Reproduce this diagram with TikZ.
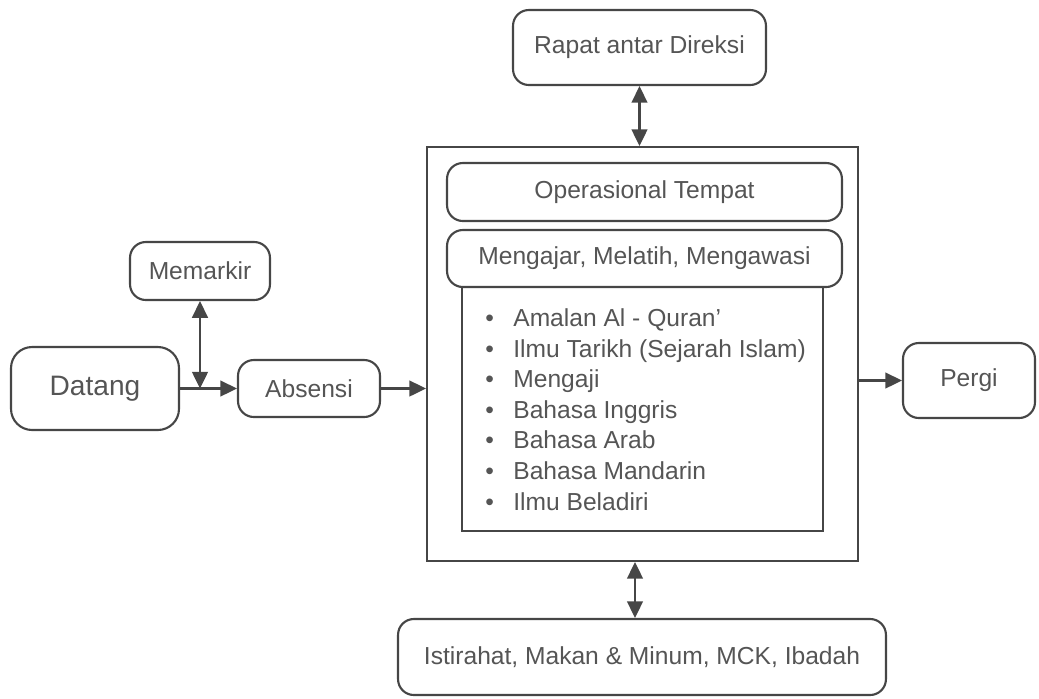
\documentclass[tikz,border=0pt]{standalone}
\usepackage{fontspec}
\setmainfont{Liberation Sans}
\usetikzlibrary{arrows.meta, positioning, calc}
\definecolor{linegray}{RGB}{70,70,70}
\definecolor{textgray}{RGB}{85,85,85}
\tikzset{
  roundbox/.style={
    rectangle, rounded corners=9pt,
    draw=linegray, line width=1.2pt, fill=white,
    text=textgray, align=center,
    font=\fontsize{14}{17}\selectfont
  },
  plainbox/.style={
    rectangle, draw=linegray, line width=1.2pt
  },
  arrow/.style={-{Triangle[length=9.5pt,width=9pt]}, line width=1.2pt, color=linegray},
  dblarrow/.style={{Triangle[length=9.5pt,width=9pt]}-{Triangle[length=9.5pt,width=9pt]},
    line width=1.2pt, color=linegray},
}

\begin{document}
\begin{tikzpicture}[x=0.02cm, y=-0.02cm]
  \useasboundingbox (0,0) rectangle (1039,698);

  % Centre block
  \node[plainbox, minimum width=8.62cm, minimum height=8.28cm] (outer) at (642.5,354) {};
  \node[plainbox, minimum width=7.22cm, minimum height=4.88cm] (materi) at (642.5,409) {};
  \node[roundbox, minimum width=7.9cm, minimum height=1.16cm] (ops) at (644.5,192)
        {Operasional Tempat};
  \node[roundbox, minimum width=7.9cm, minimum height=1.14cm] (ajar) at (644.5,258.5)
        {Mengajar, Melatih, Mengawasi};
  \node[anchor=base west, inner sep=0pt, text=textgray, align=left,
        font=\fontsize{14}{17.4}\selectfont] (daftar) at (485,510)
        {\makebox[0.56cm][l]{•}Amalan Al - Quran’\\
         \makebox[0.56cm][l]{•}Ilmu Tarikh (Sejarah Islam)\\
         \makebox[0.56cm][l]{•}Mengaji\\
         \makebox[0.56cm][l]{•}Bahasa Inggris\\
         \makebox[0.56cm][l]{•}Bahasa Arab\\
         \makebox[0.56cm][l]{•}Bahasa Mandarin\\
         \makebox[0.56cm][l]{•}Ilmu Beladiri};

  % Outer nodes
  \node[roundbox, minimum width=5.06cm, minimum height=1.5cm] (rapat) at (639.5,47.5)
        {Rapat antar Direksi};
  \node[roundbox, rounded corners=12pt, minimum width=3.36cm, minimum height=1.66cm,
        font=\fontsize{16}{19}\selectfont] (datang) at (95,388.5) {Datang};
  \node[roundbox, minimum width=2.8cm, minimum height=1.16cm] (memarkir) at (200,271)
        {Memarkir};
  \node[roundbox, minimum width=2.84cm, minimum height=1.14cm] (absensi) at (309,388.5)
        {Absensi};
  \node[roundbox, minimum width=2.64cm, minimum height=1.5cm] (pergi) at (969,380.5)
        {Pergi};
  \node[roundbox, minimum width=9.76cm, minimum height=1.52cm] (istirahat) at (642,657)
        {Istirahat, Makan \& Minum, MCK, Ibadah};

  % Arrows
  \coordinate (parkir) at (memarkir.south |- datang.east);
  \draw[arrow] (datang.east) -- (absensi.west);
  \draw[dblarrow] (memarkir.south) -- (parkir);
  \draw[arrow] (absensi.east) -- (absensi.east -| outer.west);
  \draw[arrow] (outer.east |- pergi.west) -- (pergi.west);
  \draw[dblarrow] (rapat.south) -- (rapat.south |- outer.north);
  \draw[dblarrow] ([xshift=-0.14cm]istirahat.north)
        -- ([xshift=-0.14cm]istirahat.north |- outer.south);

\end{tikzpicture}
\end{document}
